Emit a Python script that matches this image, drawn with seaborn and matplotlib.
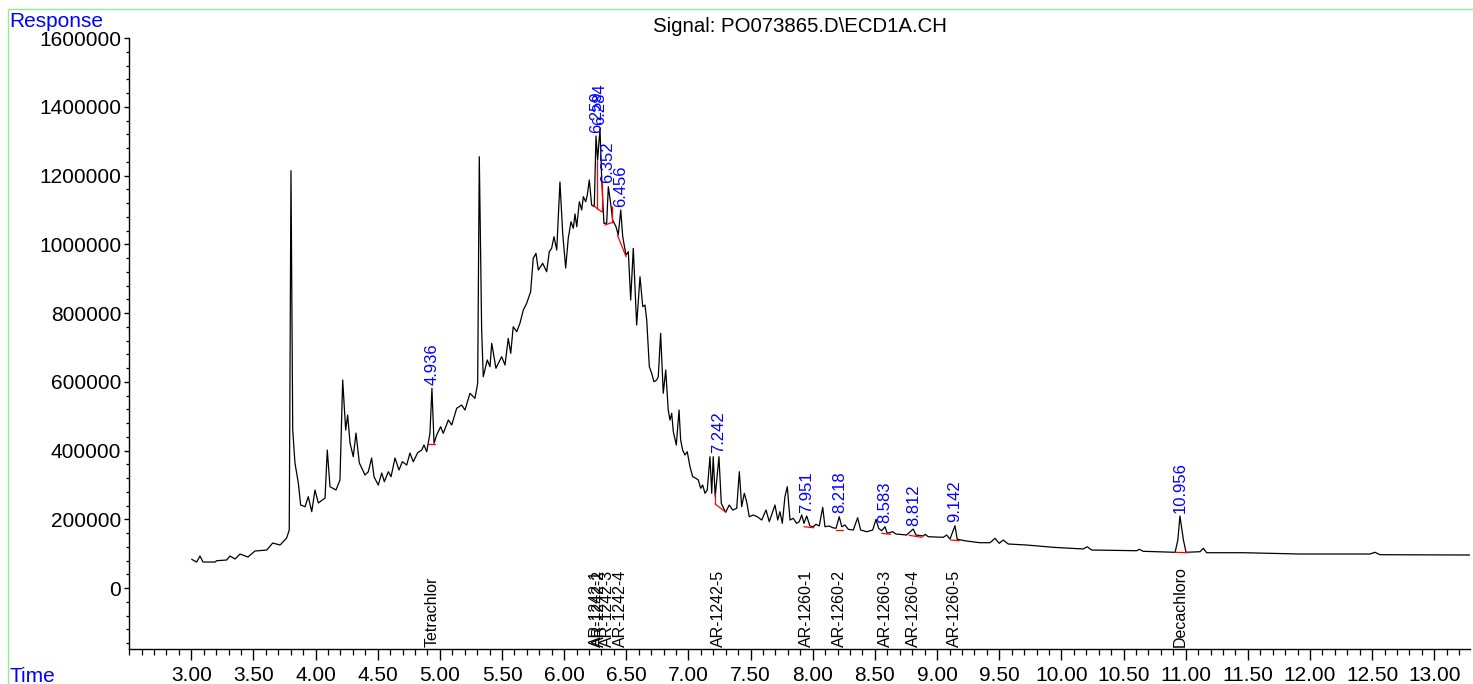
import matplotlib
matplotlib.use("Agg")
import matplotlib.pyplot as plt
import matplotlib.ticker as mticker
import numpy as np
import pandas as pd
import seaborn as sns
from matplotlib.lines import Line2D
from matplotlib.transforms import blended_transform_factory


# Chromatogram trace (minutes, response in thousands)
time_min = [
    3.003, 3.043, 3.070, 3.094, 3.191, 3.204, 3.285, 3.311, 3.352, 3.392,
    3.456, 3.512, 3.607, 3.655, 3.714, 3.767, 3.788, 3.802, 3.816, 3.834,
    3.861, 3.880, 3.915, 3.941, 3.969, 3.995, 4.022, 4.076, 4.094, 4.116,
    4.164, 4.196, 4.218, 4.242, 4.258, 4.277, 4.303, 4.325, 4.352, 4.379,
    4.397, 4.424, 4.451, 4.470, 4.504, 4.532, 4.553, 4.585, 4.607, 4.639,
    4.671, 4.698, 4.733, 4.759, 4.786, 4.821, 4.854, 4.872, 4.894, 4.920,
    4.936, 4.953, 4.974, 5.006, 5.027, 5.068, 5.095, 5.135, 5.175, 5.202,
    5.242, 5.282, 5.304, 5.317, 5.336, 5.349, 5.381, 5.403, 5.417, 5.451,
    5.470, 5.497, 5.524, 5.550, 5.570, 5.590, 5.618, 5.644, 5.671, 5.698,
    5.730, 5.751, 5.773, 5.792, 5.827, 5.859, 5.880, 5.899, 5.918, 5.940,
    5.966, 5.988, 6.012, 6.033, 6.055, 6.073, 6.087, 6.101, 6.122, 6.141,
    6.154, 6.173, 6.186, 6.202, 6.221, 6.242, 6.256, 6.269, 6.288, 6.302,
    6.320, 6.342, 6.355, 6.374, 6.390, 6.417, 6.435, 6.455, 6.471, 6.497,
    6.516, 6.535, 6.556, 6.583, 6.610, 6.632, 6.650, 6.664, 6.685, 6.704,
    6.722, 6.744, 6.757, 6.776, 6.797, 6.817, 6.837, 6.851, 6.865, 6.878,
    6.902, 6.924, 6.937, 6.953, 6.972, 6.990, 7.012, 7.034, 7.060, 7.079,
    7.098, 7.114, 7.133, 7.151, 7.173, 7.187, 7.199, 7.215, 7.245, 7.264,
    7.299, 7.328, 7.356, 7.388, 7.409, 7.428, 7.449, 7.468, 7.489, 7.521,
    7.554, 7.589, 7.624, 7.650, 7.696, 7.718, 7.736, 7.755, 7.776, 7.795,
    7.817, 7.843, 7.870, 7.891, 7.911, 7.929, 7.951, 7.977, 8.004, 8.026,
    8.052, 8.080, 8.098, 8.133, 8.160, 8.187, 8.213, 8.233, 8.259, 8.286,
    8.326, 8.361, 8.385, 8.434, 8.482, 8.509, 8.530, 8.554, 8.581, 8.599,
    8.643, 8.669, 8.755, 8.808, 8.830, 8.889, 8.905, 8.929, 9.050, 9.077,
    9.104, 9.144, 9.162, 9.238, 9.345, 9.426, 9.466, 9.500, 9.532, 9.573,
    9.721, 9.935, 10.176, 10.208, 10.244, 10.606, 10.627, 10.659, 10.915, 10.937,
    10.954, 10.982, 11.003, 11.115, 11.142, 11.169, 11.464, 11.920, 12.483, 12.523,
    12.563, 13.287,
]
response_k = [
    83.5, 75.6, 93.1, 75.6, 75.6, 79.4, 81.5, 93.1, 84.4, 98.9,
    90.2, 107.6, 110.5, 130.9, 125.1, 145.5, 168.7, 1214.0, 459.6, 363.6,
    305.4, 241.4, 236.5, 265.6, 222.0, 285.1, 247.3, 261.8, 401.4, 294.7,
    285.1, 314.2, 605.1, 459.6, 503.3, 421.8, 382.0, 450.9, 363.6, 343.3,
    328.7, 338.3, 378.2, 323.8, 299.6, 334.5, 309.2, 338.3, 323.8, 378.2,
    343.3, 367.4, 357.8, 392.7, 367.4, 393.6, 401.4, 416.0, 396.5, 450.0,
    580.9, 420.9, 445.1, 469.2, 450.0, 488.7, 474.2, 522.7, 532.3, 517.8,
    566.4, 551.8, 595.5, 1254.7, 750.5, 614.7, 663.3, 643.8, 711.8, 639.1,
    653.7, 672.8, 648.7, 726.4, 682.7, 760.1, 745.6, 770.0, 808.7, 828.2,
    861.9, 959.1, 973.6, 925.1, 944.6, 920.1, 978.3, 988.2, 1021.9, 983.2,
    1181.1, 1031.8, 930.9, 1018.2, 1065.6, 1046.4, 1088.0, 1051.0, 1123.8, 1099.6,
    1138.3, 1123.8, 1143.2, 1186.9, 1114.1, 1109.2, 1314.9, 1245.1, 1337.3, 1186.9,
    1060.9, 1060.9, 1167.4, 1119.1, 1070.5, 1051.0, 1026.9, 1099.6, 1021.9, 968.7,
    978.3, 837.8, 988.2, 765.1, 905.6, 818.3, 823.2, 779.6, 643.8, 624.6,
    600.1, 605.1, 614.7, 740.9, 566.4, 634.2, 517.8, 488.7, 508.2, 454.7,
    416.0, 517.8, 430.5, 401.4, 386.9, 396.5, 352.9, 323.8, 319.1, 314.2,
    290.0, 299.6, 275.5, 285.1, 382.0, 275.5, 382.0, 265.6, 382.0, 246.4,
    220.2, 241.4, 226.9, 231.8, 338.3, 236.5, 275.5, 251.0, 207.4, 212.4,
    207.4, 197.8, 226.9, 192.9, 241.4, 197.8, 222.0, 188.2, 265.6, 294.7,
    197.8, 202.8, 188.2, 192.9, 212.4, 188.2, 209.4, 180.4, 178.3, 185.3,
    180.4, 234.8, 178.3, 180.4, 175.4, 173.7, 207.4, 178.3, 183.3, 170.8,
    168.7, 204.5, 168.7, 163.8, 168.7, 199.8, 173.7, 166.7, 178.3, 159.1,
    163.8, 157.1, 154.2, 171.6, 154.2, 151.3, 156.2, 149.2, 147.5, 154.2,
    142.5, 181.2, 141.7, 136.7, 131.8, 131.8, 144.6, 130.0, 139.6, 128.0,
    125.1, 118.4, 113.5, 120.1, 110.5, 108.5, 112.6, 106.8, 103.9, 139.6,
    209.4, 139.6, 103.9, 105.6, 115.5, 102.7, 102.7, 98.9, 98.9, 103.9,
    96.9, 96.0,
]

# Integrated peaks: retention time, apex height (thousands), compound name
peak_rt = [4.936, 6.259, 6.284, 6.352, 6.456, 7.242, 7.951, 8.218, 8.583, 8.812, 9.142, 10.956]
peak_apex_k = [580.9, 1314.9, 1337.3, 1167.4, 1099.6, 382.0, 209.4, 207.4, 178.3, 171.6, 181.2, 209.4]
compound = ["Tetrachlor", "AR-1242-1", "AR-1242-2", "AR-1242-3", "AR-1242-4", "AR-1242-5",
            "AR-1260-1", "AR-1260-2", "AR-1260-3", "AR-1260-4", "AR-1260-5", "Decachloro"]

# Integration baselines (red): start/end time and response (thousands)
base_t0 = [4.907, 6.234, 6.268, 6.327, 6.428, 7.216, 7.929, 8.187, 8.554, 8.776, 9.109, 10.915]
base_r0 = [418.9, 1114.1, 1103.0, 1056.0, 1026.9, 244.0, 178.3, 168.7, 159.1, 153.3, 139.6, 103.9]
base_t1 = [4.960, 6.268, 6.302, 6.381, 6.498, 7.299, 8.009, 8.245, 8.627, 8.879, 9.179, 11.022]
base_r1 = [418.9, 1103.0, 1094.6, 1062.7, 963.7, 221.0, 175.4, 168.7, 156.2, 147.5, 137.6, 102.7]
# perpendicular drops between merged peaks
drop_t = [6.268, 6.302, 6.381, 7.216]
drop_lo_k = [1103.0, 1094.6, 1062.7, 244.0]
drop_hi_k = [1245.1, 1186.9, 1110.0, 276.0]

# labelled time ticks (the axis starts at 2.5 but is labelled from 3.00)
x_major = [3.0, 3.5, 4.0, 4.5, 5.0, 5.5, 6.0, 6.5, 7.0, 7.5, 8.0,
           8.5, 9.0, 9.5, 10.0, 10.5, 11.0, 11.5, 12.0, 12.5, 13.0]

W, H, DPI = 1473, 684, 100

sns.set_theme(style="ticks")
plt.rcParams["font.family"] = ["Liberation Sans", "DejaVu Sans"]

df = pd.DataFrame({"Time": time_min, "Response": np.array(response_k) * 1000})

fig = plt.figure(figsize=(W / DPI, H / DPI), dpi=DPI)
ax = fig.add_axes([129.15 / W, 1 - 649 / H, (1470.3 - 129.15) / W, (649 - 38) / H])

sns.lineplot(data=df, x="Time", y="Response", color="black", linewidth=0.9,
             estimator=None, sort=False, ax=ax)

# integration baselines
for t0, r0, t1, r1 in zip(base_t0, base_r0, base_t1, base_r1):
    ax.plot([t0, t1], [r0 * 1000, r1 * 1000], color="red", lw=0.9)
ax.vlines(drop_t, np.array(drop_lo_k) * 1000, np.array(drop_hi_k) * 1000, color="red", lw=0.9)

# retention time labels above peaks
for rt, apex in zip(peak_rt, peak_apex_k):
    ax.annotate(f"{rt:.3f}", xy=(rt, apex * 1000), xytext=(0, 2.5), textcoords="offset points",
                rotation=90, ha="center", va="bottom", color="blue", fontsize=12)

# compound names along the time axis
trans = blended_transform_factory(ax.transData, ax.transAxes)
for rt, name in zip(peak_rt, compound):
    ax.text(rt, 0.003, name, transform=trans, rotation=90, ha="center", va="bottom",
            color="black", fontsize=11.5)

ax.set_xlim(2.5, 13.29)
ax.set_ylim(-177400, 1600000)
ax.xaxis.set_major_locator(mticker.FixedLocator(x_major))
ax.xaxis.set_minor_locator(mticker.MultipleLocator(0.1))
ax.xaxis.set_major_formatter(mticker.FormatStrFormatter("%.2f"))
ax.yaxis.set_major_locator(mticker.MultipleLocator(200000))
ax.yaxis.set_minor_locator(mticker.MultipleLocator(40000))
ax.yaxis.set_major_formatter(mticker.FuncFormatter(lambda v, _: f"{v:.0f}"))
ax.set_xlabel("")
ax.set_ylabel("")

ax.tick_params(axis="x", which="major", length=8, width=1, pad=4, labelsize=15, colors="black")
ax.tick_params(axis="x", which="minor", length=4.3, width=0.9, colors="black")
ax.tick_params(axis="y", which="major", length=3.6, width=1, pad=2, labelsize=15, colors="black")
ax.tick_params(axis="y", which="minor", length=2.2, width=0.9, colors="black")
for side in ("top", "right"):
    ax.spines[side].set_visible(False)
for side in ("left", "bottom"):
    ax.spines[side].set_color("black")
    ax.spines[side].set_linewidth(1)

ax.set_title("Signal: PO073865.D\\ECD1A.CH", fontsize=14.7, pad=4, color="black")

# frame and axis captions
green = "#8fef8f"
fig.add_artist(Line2D([8 / W, 8 / W], [0, 1 - 9 / H], color=green, lw=1))
fig.add_artist(Line2D([8 / W, 1], [1 - 9 / H, 1 - 9 / H], color=green, lw=1))
fig.text(9 / W, 1 - 12 / H, "Response", color="blue", fontsize=15, va="top", ha="left")
fig.text(9 / W, 1 - 667 / H, "Time", color="blue", fontsize=15, va="top", ha="left")

fig.savefig("out.png", dpi=DPI)
